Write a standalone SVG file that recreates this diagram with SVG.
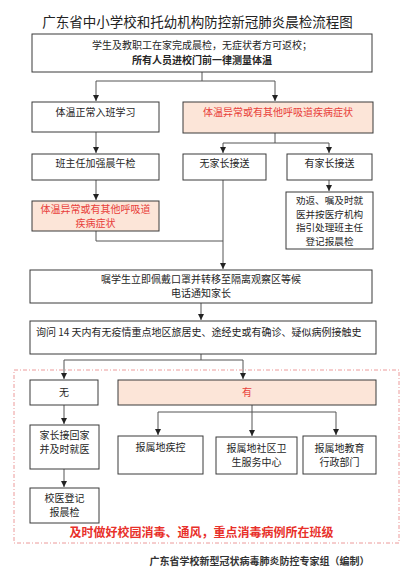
<svg xmlns="http://www.w3.org/2000/svg" width="413" height="574" viewBox="0 0 413 574">
<style>
text{font-family:"Noto Sans CJK SC","Liberation Sans",sans-serif;font-size:10px;fill:#262626;text-anchor:middle}
.box{fill:#fff;stroke:#3a3a3a;stroke-width:1}
.red{fill:#fce5d8;stroke:#3a3a3a;stroke-width:1}
.rt{fill:#e8403a}
.sm{font-size:9.6px}
.ln{fill:none;stroke:#555;stroke-width:1}
.arr{marker-end:url(#a)}
</style>
<defs>
<marker id="a" viewBox="0 0 10 10" refX="10" refY="5" markerWidth="6" markerHeight="6" orient="auto" markerUnits="userSpaceOnUse"><path d="M0,0 L10,5 L0,10 z" fill="#222"/></marker>
</defs>
<rect width="413" height="574" fill="#fff"/>
<text x="197.5" y="27" style="font-size:13.5px;fill:#222">广东省中小学校和托幼机构防控新冠肺炎晨检流程图</text>

<g id="connectors">
<path class="ln" d="M202,72 V81 M96,81 H275"/>
<path class="ln arr" d="M96,81 V101"/>
<path class="ln arr" d="M275,81 V101"/>
<path class="ln" d="M275,133 V143 M223,143 H329"/>
<path class="ln arr" d="M223,143 V153"/>
<path class="ln arr" d="M329,143 V153"/>
<path class="ln arr" d="M96,132 V153"/>
<path class="ln arr" d="M96,180 V200"/>
<path class="ln" d="M96,231 V241 H223"/>
<path class="ln arr" d="M223,180 V269"/>
<path class="ln arr" d="M329,180 V191"/>
<path class="ln arr" d="M201,303 V320"/>
<path class="ln" d="M201,354 V360 M64,360 H243"/>
<path class="ln arr" d="M64,360 V379"/>
<path class="ln arr" d="M243,360 V379"/>
<path class="ln arr" d="M252,405 V436"/>
<path class="ln" d="M158,412 H336"/>
<path class="ln arr" d="M158,412 V435"/>
<path class="ln arr" d="M336,412 V435"/>
<path class="ln arr" d="M64,405 V424"/>
<path class="ln arr" d="M64,469 V487"/>
</g>

<g id="n_top"><rect class="box" x="32" y="34" width="340" height="38"/>
<text x="202" y="49">学生及教职工在家完成晨检，无症状者方可返校；</text>
<text x="202" y="63.5" style="font-weight:bold">所有人员进校门前一律测量体温</text></g>

<g id="n_normal"><rect class="box" x="32" y="102" width="127" height="30"/>
<text x="95.5" y="115.5">体温正常入班学习</text></g>

<g id="n_abnormal"><rect class="red" x="183" y="102" width="190" height="31"/>
<text class="rt" x="278" y="115.5">体温异常或有其他呼吸道疾病症状</text></g>

<g id="n_check"><rect class="box" x="32" y="154" width="127" height="26"/>
<text x="95.5" y="166.5">班主任加强晨午检</text></g>

<g id="n_noparent"><rect class="box" x="183" y="154" width="83" height="26"/>
<text x="224.5" y="166.5">无家长接送</text></g>

<g id="n_parent"><rect class="box" x="287" y="154" width="85" height="26"/>
<text x="329.5" y="166.5">有家长接送</text></g>

<g id="n_abnormal2"><rect class="red" x="32" y="201" width="127" height="30"/>
<text class="rt" x="95.5" y="212.8">体温异常或有其他呼吸道</text>
<text class="rt" x="95.5" y="227.3">疾病症状</text></g>

<g id="n_advise"><rect class="box" x="286" y="192" width="87" height="57"/>
<text class="sm" x="329.5" y="203.6">劝返、嘱及时就</text>
<text class="sm" x="329.5" y="217.5">医并按医疗机构</text>
<text class="sm" x="329.5" y="231.4">指引处理班主任</text>
<text class="sm" x="329.5" y="245.3">登记报晨检</text></g>

<g id="n_isolate"><rect class="box" x="30" y="270" width="342" height="33"/>
<text x="201" y="282.8">嘱学生立即佩戴口罩并转移至隔离观察区等候</text>
<text x="201" y="297.3">电话通知家长</text></g>

<g id="n_ask"><rect class="box" x="30" y="321" width="346" height="33"/>
<text x="36" y="335.5" style="text-anchor:start">询问 14 天内有无疫情重点地区旅居史、途经史或有确诊、疑似病例接触史</text></g>

<g id="zone"><rect x="14" y="370" width="385" height="173" fill="none" stroke="#ec9a9a" stroke-width="1" stroke-dasharray="4 2 1 2"/>
<text x="201.5" y="536.5" style="font-size:12px;font-weight:bold;fill:#e8302a">及时做好校园消毒、通风，重点消毒病例所在班级</text></g>

<g id="n_no"><rect class="box" x="30" y="380" width="68" height="25"/>
<text x="64" y="396">无</text></g>

<g id="n_yes"><rect class="red" x="118" y="380" width="258" height="25"/>
<text class="rt" x="247" y="396">有</text></g>

<g id="n_cdc"><rect class="box" x="118" y="436" width="85" height="38"/>
<text x="160.5" y="450.5">报属地疾控</text></g>

<g id="n_community"><rect class="box" x="216" y="437" width="81" height="37"/>
<text x="256.5" y="451.5">报属地社区卫</text>
<text x="256.5" y="466">生服务中心</text></g>

<g id="n_edu"><rect class="box" x="303" y="436" width="73" height="38"/>
<text x="339.5" y="451.5">报属地教育</text>
<text x="339.5" y="466">行政部门</text></g>

<g id="n_home"><rect class="box" x="30" y="425" width="69" height="44"/>
<text x="64.5" y="438.5">家长接回家</text>
<text x="64.5" y="453">并及时就医</text></g>

<g id="n_doctor"><rect class="box" x="30" y="488" width="69" height="35"/>
<text x="64.5" y="501.5">校医登记</text>
<text x="64.5" y="516">报晨检</text></g>

<text x="259.5" y="565" style="font-weight:bold;fill:#333">广东省学校新型冠状病毒肺炎防控专家组（编制）</text>
</svg>
